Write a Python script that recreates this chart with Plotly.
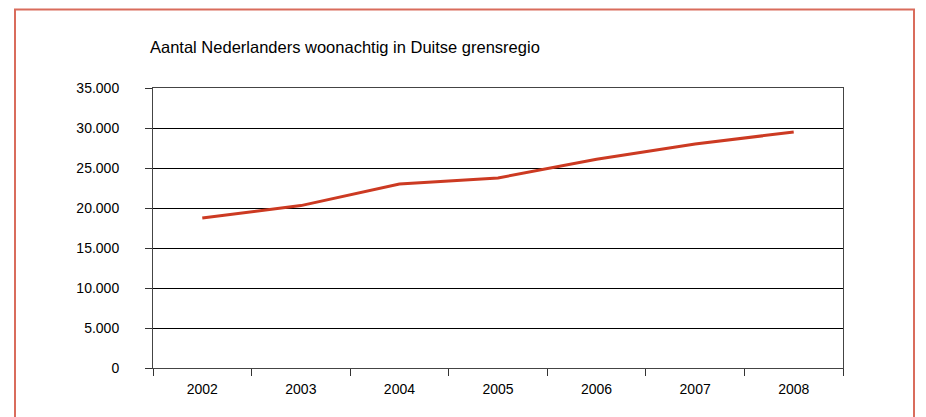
import plotly.graph_objects as go

years = ["2002", "2003", "2004", "2005", "2006", "2007", "2008"]
values = [18750, 20300, 23000, 23750, 26100, 28000, 29500]
title_text = "Aantal Nederlanders woonachtig in Duitse grensregio"

W, H = 926, 417
OFF = 8  # page body margin
L, R, T, B = 153 - OFF, 843 - OFF, 88 - OFF, 368 - OFF

fig = go.Figure()
fig.add_trace(go.Scatter(
    x=years, y=values, mode="lines",
    line=dict(color="#cc3a22", width=3),
    hoverinfo="skip", showlegend=False,
))

def px_x(p):
    return (p - OFF - L) / (R - L)

def px_y(p):
    return (B - (p - OFF)) / (B - T)

fig.update_layout(
    width=W, height=H,
    margin=dict(l=L, r=W - R, t=T, b=H - B, pad=0),
    paper_bgcolor="white", plot_bgcolor="white",
    separators=",.",
    font=dict(family="Liberation Sans, Arial, sans-serif", size=14, color="black"),
    showlegend=False,
    xaxis=dict(
        type="category", range=[-0.5, 6.5],
        showgrid=False, zeroline=False,
        showline=True, linecolor="#444", linewidth=1, mirror=True,
        ticks="outside", ticklen=7, tickcolor="#333", tickwidth=1,
        tickson="boundaries", ticklabelstandoff=8,
        tickfont=dict(size=14),
    ),
    yaxis=dict(
        range=[0, 35000], dtick=5000, tickformat=",d",
        showgrid=True, gridcolor="black", gridwidth=1,
        zeroline=False,
        showline=True, linecolor="#444", linewidth=1, mirror=True,
        ticks="outside", ticklen=7, tickcolor="#333", tickwidth=1,
        ticklabelstandoff=23,
        tickfont=dict(size=14),
    ),
    annotations=[dict(
        text=title_text, xref="paper", yref="paper",
        x=px_x(148), y=px_y(47), xanchor="left", yanchor="middle",
        showarrow=False, font=dict(size=16.5, color="black"),
    )],
    shapes=[dict(
        type="rect", xref="paper", yref="paper",
        x0=px_x(15), x1=px_x(914), y0=px_y(430), y1=px_y(9.5),
        line=dict(color="#d96c5c", width=2), layer="below",
    )],
)

fig.write_html("out.html")
